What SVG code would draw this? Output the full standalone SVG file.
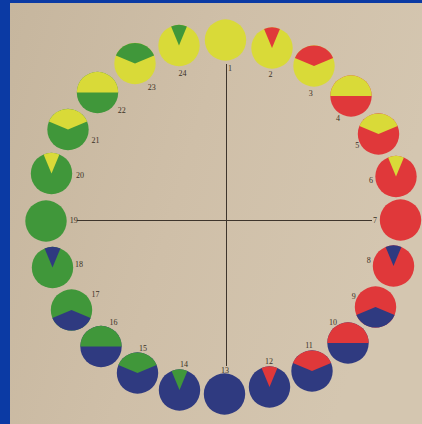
<svg xmlns="http://www.w3.org/2000/svg" xmlns:xlink="http://www.w3.org/1999/xlink" width="422" height="424" viewBox="0 0 422 424">
<style>
.y{fill:#d9da38}.r{fill:#e0383a}.g{fill:#40973a}.b{fill:#2f3a80}
.lbl{font-family:"Liberation Serif","DejaVu Serif",serif;font-size:8px;fill:#3a3026;text-anchor:middle}
.ln{stroke:#3e352c;stroke-width:1;fill:none}
</style>
<defs>
<linearGradient id="paper" x1="0" y1="0" x2="1" y2="0.3">
<stop offset="0" stop-color="#c6b69e"/>
<stop offset="0.5" stop-color="#cfbfa8"/>
<stop offset="1" stop-color="#d4c6b0"/>
</linearGradient>
<circle id="disc" r="20.7"/>
<path id="wedge" d="M0,0 L-7.9,-19.1 A20.7,20.7 0 0 1 7.9,-19.1 Z"/>
<path id="vtop" d="M0,0 L-19.1,-7.9 A20.7,20.7 0 0 1 19.1,-7.9 Z"/>
<path id="half" d="M-20.7,0 A20.7,20.7 0 0 1 20.7,0 Z"/>
<path id="vbot" d="M0,0 L-19.1,7.9 A20.7,20.7 0 0 0 19.1,7.9 Z"/>
</defs>
<rect width="422" height="424" fill="#0b3aa4"/>
<rect x="10" y="3" width="412" height="421" fill="url(#paper)"/>
<g id="connectors">
<line class="ln" x1="226.5" y1="64" x2="226.5" y2="366"/>
<line class="ln" x1="77" y1="220.5" x2="372" y2="220.5"/>
</g>
<g id="n1"><use href="#disc" x="225.5" y="40" class="y"/><text class="lbl" x="230" y="71">1</text></g>
<g id="n2"><use href="#disc" x="272" y="48" class="y"/><use href="#wedge" x="272" y="48" class="r"/><text class="lbl" x="270.5" y="76.5">2</text></g>
<g id="n3"><use href="#disc" x="314" y="66" class="y"/><use href="#vtop" x="314" y="66" class="r"/><text class="lbl" x="310.7" y="96">3</text></g>
<g id="n4"><use href="#disc" x="351" y="96" class="r"/><use href="#half" x="351" y="96" class="y"/><text class="lbl" x="338" y="120.7">4</text></g>
<g id="n5"><use href="#disc" x="378.5" y="134" class="r"/><use href="#vtop" x="378.5" y="134" class="y"/><text class="lbl" x="357.3" y="148.3">5</text></g>
<g id="n6"><use href="#disc" x="396" y="176.5" class="r"/><use href="#wedge" x="396" y="176.5" class="y"/><text class="lbl" x="371" y="182.7">6</text></g>
<g id="n7"><use href="#disc" x="400.5" y="220" class="r"/><text class="lbl" x="375" y="222.7">7</text></g>
<g id="n8"><use href="#disc" x="393.5" y="266" class="r"/><use href="#wedge" x="393.5" y="266" class="b"/><text class="lbl" x="368.7" y="262.7">8</text></g>
<g id="n9"><use href="#disc" x="375.5" y="307" class="r"/><use href="#vbot" x="375.5" y="307" class="b"/><text class="lbl" x="353.8" y="299.3">9</text></g>
<g id="n10"><use href="#disc" x="348" y="343" class="b"/><use href="#half" x="348" y="343" class="r"/><text class="lbl" x="333" y="325">10</text></g>
<g id="n11"><use href="#disc" x="312" y="371" class="b"/><use href="#vtop" x="312" y="371" class="r"/><text class="lbl" x="309" y="347.7">11</text></g>
<g id="n12"><use href="#disc" x="269.5" y="387" class="b"/><use href="#wedge" x="269.5" y="387" class="r"/><text class="lbl" x="269" y="364">12</text></g>
<g id="n13"><use href="#disc" x="224.5" y="394" class="b"/><text class="lbl" x="225" y="373.3">13</text></g>
<g id="n14"><use href="#disc" x="179.5" y="390" class="b"/><use href="#wedge" x="179.5" y="390" class="g"/><text class="lbl" x="184" y="367.3">14</text></g>
<g id="n15"><use href="#disc" x="137.5" y="373" class="b"/><use href="#vtop" x="137.5" y="373" class="g"/><text class="lbl" x="143" y="350.7">15</text></g>
<g id="n16"><use href="#disc" x="101" y="346.5" class="b"/><use href="#half" x="101" y="346.5" class="g"/><text class="lbl" x="113.5" y="325">16</text></g>
<g id="n17"><use href="#disc" x="71.5" y="310" class="g"/><use href="#vbot" x="71.5" y="310" class="b"/><text class="lbl" x="95.5" y="297.3">17</text></g>
<g id="n18"><use href="#disc" x="52.5" y="267.5" class="g"/><use href="#wedge" x="52.5" y="267.5" class="b"/><text class="lbl" x="79" y="266.7">18</text></g>
<g id="n19"><use href="#disc" x="46" y="221" class="g"/><text class="lbl" x="73.7" y="223.3">19</text></g>
<g id="n20"><use href="#disc" x="51.5" y="173.5" class="g"/><use href="#wedge" x="51.5" y="173.5" class="y"/><text class="lbl" x="80" y="178.3">20</text></g>
<g id="n21"><use href="#disc" x="68" y="129.5" class="g"/><use href="#vtop" x="68" y="129.5" class="y"/><text class="lbl" x="95.5" y="143.3">21</text></g>
<g id="n22"><use href="#disc" x="97.5" y="92.5" class="g"/><use href="#half" x="97.5" y="92.5" class="y"/><text class="lbl" x="121.7" y="112.7">22</text></g>
<g id="n23"><use href="#disc" x="135" y="63.5" class="y"/><use href="#vtop" x="135" y="63.5" class="g"/><text class="lbl" x="151.7" y="90">23</text></g>
<g id="n24"><use href="#disc" x="179" y="45.5" class="y"/><use href="#wedge" x="179" y="45.5" class="g"/><text class="lbl" x="182.5" y="76">24</text></g>
</svg>
